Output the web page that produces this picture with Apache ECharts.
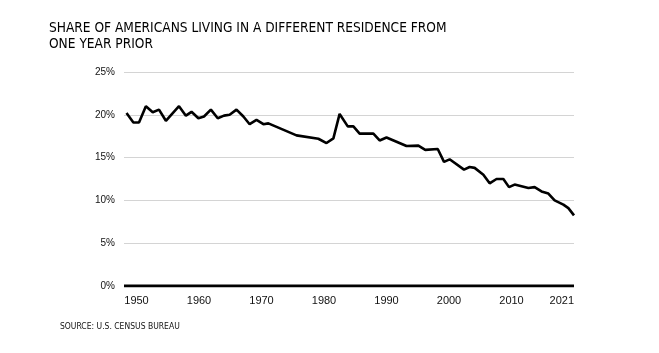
<!DOCTYPE html>
<html>
<head>
<meta charset="utf-8">
<script src="https://cdn.jsdelivr.net/npm/echarts@6/dist/echarts.min.js"></script>
<style>
  html, body { margin: 0; padding: 0; background: #fff; }
  #chart { width: 659px; height: 353px; }
</style>
</head>
<body>
<div id="chart"></div>
<script>
// x positions, in axis years
const years = [
  1948.4, 1949.5, 1950.4, 1951.5, 1952.6, 1953.6, 1954.7, 1955.8, 1956.8, 1957.9,
  1958.8, 1959.9, 1960.8, 1961.9, 1963.0, 1964.0, 1964.9, 1966.0, 1967.1, 1968.1,
  1969.2, 1970.3, 1971.1, 1975.6, 1979.1, 1980.4, 1981.5, 1982.5, 1983.8, 1984.7,
  1985.7, 1987.9, 1988.9, 1990.0, 1993.2, 1995.1, 1996.2, 1998.2, 1999.2, 2000.1,
  2002.4, 2003.3, 2004.1, 2005.5, 2006.5, 2007.6, 2008.7, 2009.6, 2010.5, 2012.7,
  2013.7, 2014.8, 2015.9, 2016.9, 2018.3, 2019.1, 2020.0
];
// share that moved, percent
const moverRate = [
  20.2, 19.1, 19.1, 21.0, 20.3, 20.6, 19.3, 20.2, 21.0, 19.9,
  20.35, 19.6, 19.8, 20.6, 19.6, 19.9, 20.0, 20.6, 19.8, 18.9,
  19.4, 18.9, 19.0, 17.6, 17.2, 16.7, 17.25, 20.1, 18.65, 18.65,
  17.8, 17.8, 17.0, 17.35, 16.35, 16.4, 15.9, 16.0, 14.5, 14.8,
  13.6, 13.9, 13.8, 13.0, 12.0, 12.5, 12.5, 11.55, 11.85, 11.45,
  11.55, 11.05, 10.8, 10.0, 9.5, 9.1, 8.25
];
const tickYears = [1950, 1960, 1970, 1980, 1990, 2000, 2010, 2020];
const tickLabels = ['1950', '1960', '1970', '1980', '1990', '2000', '2010', '2021'];

const font = "'Liberation Sans', sans-serif";
const titleFont = "'DejaVu Sans Condensed', 'Liberation Sans', sans-serif";

const chart = echarts.init(document.getElementById('chart'));

const option = {
  animation: false,
  backgroundColor: '#fff',
  title: [
    {
      text: 'SHARE OF AMERICANS LIVING IN A DIFFERENT RESIDENCE FROM\nONE YEAR PRIOR',
      left: 49,
      top: 20,
      padding: 0,
      textStyle: { fontFamily: titleFont, fontSize: 13.6, fontWeight: 'normal', color: '#000', lineHeight: 16 }
    },
    {
      text: 'SOURCE: U.S. CENSUS BUREAU',
      left: 60,
      top: 322,
      padding: 0,
      textStyle: { fontFamily: titleFont, fontSize: 8.5, fontWeight: 'normal', color: '#111' }
    }
  ],
  grid: { left: 124, right: 85, top: 72, bottom: 67 },
  xAxis: {
    type: 'value',
    min: 1948,
    max: 2020,
    axisLine: { show: false },
    axisTick: { show: false },
    splitLine: { show: false },
    axisLabel: {
      customValues: tickYears,
      formatter: v => tickLabels[tickYears.indexOf(v)],
      alignMaxLabel: 'right',
      margin: 9,
      fontFamily: font,
      fontSize: 11,
      color: '#111'
    }
  },
  yAxis: {
    type: 'value',
    min: 0,
    max: 25,
    interval: 5,
    axisLine: { show: false },
    axisTick: { show: false },
    splitLine: { lineStyle: { color: '#d4d4d4', width: 1 } },
    axisLabel: {
      formatter: '{value}%',
      margin: 9,
      fontFamily: font,
      fontSize: 10,
      color: '#111'
    }
  },
  series: [
    {
      type: 'line',
      data: years.map((y, i) => [y, moverRate[i]]),
      symbol: 'none',
      lineStyle: { color: '#000', width: 2.6 },
      z: 3
    },
    {
      // heavy baseline at 0%
      type: 'line',
      data: [[1948, 0], [2020, 0]],
      symbol: 'none',
      lineStyle: { color: '#000', width: 3 },
      silent: true,
      z: 2
    }
  ]
};

chart.setOption(option);
</script>
</body>
</html>
